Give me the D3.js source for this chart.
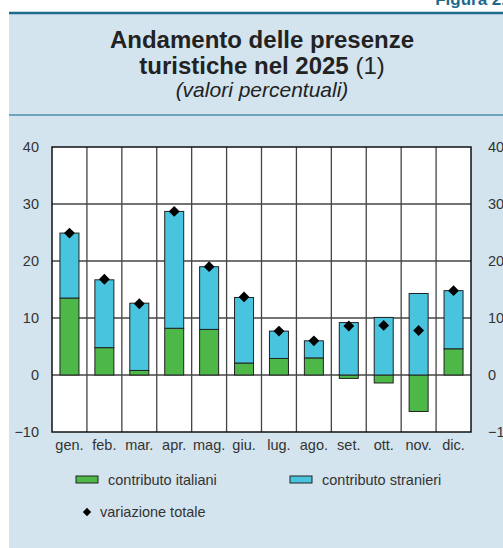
<!DOCTYPE html>
<html lang="it">
  <head>
    <meta http-equiv="Content-Type" content="text/html; charset=utf-8"/>
    <style>
body {
  margin: 0;
  background: #fff;
}
text {
  font-family: "Liberation Sans", Arial, Helvetica, sans-serif;
  fill: #222;
}
.tick text {
  font-size: 14.5px;
  fill: #333;
}
    </style>
  </head>
  <body>
    <svg id="chart" width="503" height="548"></svg>
    <script src="https://cdn.jsdelivr.net/npm/d3@7"></script>
    <script>

// mesi e contributi (punti percentuali)
var months = ['gen.', 'feb.', 'mar.', 'apr.', 'mag.', 'giu.', 'lug.', 'ago.', 'set.', 'ott.', 'nov.', 'dic.'];
var italiani  = [13.5, 4.8, 0.8, 8.2, 8.0, 2.1, 2.9, 3.0, -0.6, -1.4, -6.4, 4.6];
var stranieri = [11.4, 11.9, 11.8, 20.5, 11.0, 11.5, 4.8, 3.0, 9.2, 10.1, 14.3, 10.2];
var totale    = [24.9, 16.8, 12.5, 28.7, 19.0, 13.7, 7.7, 6.0, 8.6, 8.7, 7.8, 14.8];
var yTicks = [-10, 0, 10, 20, 30, 40];

var green = '#4db848';
var cyan = '#48c4df';

var svg = d3.select('#chart');

// pannello di sfondo
svg.append('rect')
  .attr('x', 9).attr('y', 13)
  .attr('width', 494).attr('height', 535)
  .attr('fill', '#d3e4ee');
svg.append('line')
  .attr('x1', 9).attr('x2', 503).attr('y1', 13).attr('y2', 13)
  .attr('stroke', '#1d6a8c').attr('stroke-width', 2.5);
svg.append('line')
  .attr('x1', 9).attr('x2', 503).attr('y1', 115).attr('y2', 115)
  .attr('stroke', '#4f8eac').attr('stroke-width', 1.5);

svg.append('text')
  .attr('x', 506).attr('y', 5)
  .attr('text-anchor', 'end')
  .style('font-size', '17px').style('font-weight', 'bold')
  .style('fill', '#1d6a8c')
  .text('Figura 2.');

// titolo
svg.append('text')
  .attr('x', 262).attr('y', 48)
  .attr('text-anchor', 'middle')
  .style('font-size', '24px').style('font-weight', 'bold')
  .text('Andamento delle presenze');
var t2 = svg.append('text')
  .attr('x', 262).attr('y', 74)
  .attr('text-anchor', 'middle')
  .style('font-size', '24px');
t2.append('tspan').style('font-weight', 'bold').text('turistiche nel 2025');
t2.append('tspan').text(' (1)');
svg.append('text')
  .attr('x', 262).attr('y', 97)
  .attr('text-anchor', 'middle')
  .style('font-size', '21px').style('font-style', 'italic')
  .text('(valori percentuali)');

var pLeft = 52, pRight = 471, pTop = 147, pBottom = 432;

var x = d3.scaleBand().domain(months).range([pLeft, pRight]).paddingInner(0).paddingOuter(0);
var y = d3.scaleLinear().domain([-10, 40]).range([pBottom, pTop]);

svg.append('rect')
  .attr('x', pLeft).attr('y', pTop)
  .attr('width', pRight - pLeft).attr('height', pBottom - pTop)
  .attr('fill', '#fff');

// griglia
var grid = svg.append('g');
grid.selectAll('line.h')
  .data(yTicks.filter(function(d) { return d > -10 && d < 40; }))
  .enter().append('line')
  .attr('x1', pLeft).attr('x2', pRight)
  .attr('y1', function(d) { return y(d); })
  .attr('y2', function(d) { return y(d); })
  .attr('stroke', '#444').attr('stroke-width', 1.3);
grid.selectAll('line.v')
  .data(months.slice(1))
  .enter().append('line')
  .attr('x1', function(d) { return x(d); })
  .attr('x2', function(d) { return x(d); })
  .attr('y1', pTop).attr('y2', pBottom)
  .attr('stroke', '#444').attr('stroke-width', 1.3);

// barre impilate
var bw = 19;
var data = months.map(function(m, i) {
  return { m: m, it: italiani[i], st: stranieri[i], tot: totale[i] };
});

var bars = svg.append('g');
// italiani: da 0 al valore
bars.selectAll('rect.it')
  .data(data).enter().append('rect')
  .attr('x', function(d) { return x(d.m) + x.bandwidth() / 2 - bw / 2; })
  .attr('width', bw)
  .attr('y', function(d) { return y(Math.max(0, d.it)); })
  .attr('height', function(d) { return Math.abs(y(d.it) - y(0)); })
  .attr('fill', green).attr('stroke', '#222').attr('stroke-width', 1);
// stranieri: sopra gli italiani positivi, oppure da 0
bars.selectAll('rect.st')
  .data(data).enter().append('rect')
  .attr('x', function(d) { return x(d.m) + x.bandwidth() / 2 - bw / 2; })
  .attr('width', bw)
  .attr('y', function(d) { return y(Math.max(0, d.it) + d.st); })
  .attr('height', function(d) { return y(Math.max(0, d.it)) - y(Math.max(0, d.it) + d.st); })
  .attr('fill', cyan).attr('stroke', '#222').attr('stroke-width', 1);

// cornice
svg.append('rect')
  .attr('x', pLeft).attr('y', pTop)
  .attr('width', pRight - pLeft).attr('height', pBottom - pTop)
  .attr('fill', 'none').attr('stroke', '#111').attr('stroke-width', 1.5);

// variazione totale
var diamond = d3.symbol().type(d3.symbolDiamond2).size(75);
svg.append('g').selectAll('path')
  .data(data).enter().append('path')
  .attr('d', diamond)
  .attr('transform', function(d) {
    return 'translate(' + (x(d.m) + x.bandwidth() / 2) + ',' + y(d.tot) + ')';
  })
  .attr('fill', '#000');

// assi
var yl = svg.append('g')
  .attr('transform', 'translate(' + (pLeft - 13) + ',0)')
  .call(d3.axisLeft(y).tickValues(yTicks).tickSize(0).tickPadding(0));
yl.select('.domain').remove();
var yr = svg.append('g')
  .attr('transform', 'translate(' + (pRight + 17) + ',0)')
  .call(d3.axisRight(y).tickValues(yTicks).tickSize(0).tickPadding(0));
yr.select('.domain').remove();
var xa = svg.append('g')
  .attr('transform', 'translate(0,' + pBottom + ')')
  .call(d3.axisBottom(x).tickSize(0).tickPadding(8));
xa.select('.domain').remove();
svg.selectAll('.tick text').style('font-family', '"Liberation Sans", Arial, sans-serif');

// legenda
var lg = svg.append('g');
lg.append('rect').attr('x', 76).attr('y', 476).attr('width', 22).attr('height', 7)
  .attr('fill', green).attr('stroke', '#222').attr('stroke-width', 1);
lg.append('text').attr('x', 108).attr('y', 485).style('font-size', '14.5px').style('fill', '#333')
  .text('contributo italiani');
lg.append('rect').attr('x', 290).attr('y', 476).attr('width', 22).attr('height', 7)
  .attr('fill', cyan).attr('stroke', '#222').attr('stroke-width', 1);
lg.append('text').attr('x', 322).attr('y', 485).style('font-size', '14.5px').style('fill', '#333')
  .text('contributo stranieri');
lg.append('path')
  .attr('d', d3.symbol().type(d3.symbolDiamond2).size(45))
  .attr('transform', 'translate(87,512)')
  .attr('fill', '#000');
lg.append('text').attr('x', 100).attr('y', 517).style('font-size', '14.5px').style('fill', '#333')
  .text('variazione totale');

    </script>
  </body>
</html>
